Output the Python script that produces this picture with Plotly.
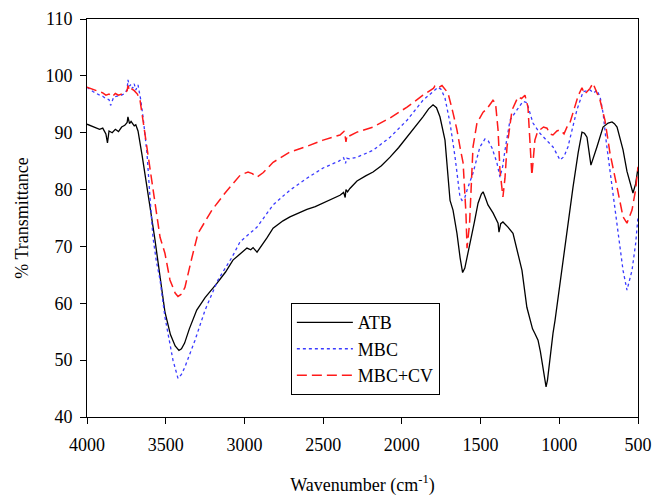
import plotly.graph_objects as go

# ---- data ----
atb_wn = [4000, 3960, 3920, 3900, 3880, 3870, 3860, 3840, 3820, 3800, 3780, 3760, 3745, 3740, 3730, 3720,
          3700, 3690, 3676, 3650, 3620, 3600, 3570, 3540, 3505, 3470, 3440, 3416, 3400, 3380, 3350, 3303,
          3250, 3175, 3120, 3073, 3030, 2984, 2960, 2945, 2920, 2880, 2857, 2818, 2755, 2711, 2647, 2603,
          2550, 2500, 2440, 2393, 2370, 2360, 2355, 2345, 2330, 2285, 2230, 2183, 2130, 2075, 2020, 1967,
          1920, 1866, 1830, 1802, 1780, 1758, 1726, 1694, 1675, 1650, 1630, 1614, 1600, 1585, 1567, 1540,
          1516, 1495, 1484, 1470, 1453, 1421, 1389, 1383, 1372, 1358, 1326, 1294, 1269, 1250, 1237, 1206,
          1170, 1155, 1135, 1120, 1103, 1090, 1084, 1075, 1060, 1040, 1027, 995, 976, 951, 926, 913,
          880, 856, 840, 824, 799, 780, 761, 722, 690, 665, 650, 633, 615, 595, 570, 551, 540, 532, 515, 500]
atb_t = [91.5, 91.0, 90.6, 90.8, 89.8, 88.2, 90.3, 90.0, 90.6, 90.2, 91.0, 91.3, 91.8, 92.8, 91.6, 92.0,
         91.2, 91.4, 90.3, 86.0, 81.0, 77.0, 71.5, 65.5, 58.5, 54.5, 52.5, 51.7, 52.0, 53.0, 55.5, 58.8,
         61.0, 63.5, 65.5, 67.6, 68.7, 69.7, 69.4, 69.8, 69.0, 70.5, 71.5, 73.2, 74.5, 75.2, 76.0, 76.5,
         77.0, 77.6, 78.4, 79.0, 79.5, 78.6, 80.0, 79.6, 80.2, 81.5, 82.4, 83.1, 84.2, 85.7, 87.4, 89.2,
         91.0, 92.8, 94.2, 94.9, 94.4, 92.8, 88.7, 78.1, 76.4, 72.3, 68.0, 65.4, 66.2, 68.0, 70.6, 74.2,
         77.6, 79.2, 79.6, 78.6, 77.3, 75.9, 74.1, 72.5, 74.0, 74.3, 73.4, 72.3, 69.3, 67.0, 65.8, 59.3,
         55.5, 54.7, 53.5, 51.5, 48.8, 46.3, 45.3, 46.5, 50.5, 54.7, 57.0, 63.5, 68.1, 73.4, 78.1, 80.4,
         86.5, 90.1, 89.9, 89.2, 84.3, 85.8, 87.5, 91.0, 91.7, 91.9, 91.6, 91.0, 89.3, 87.0, 83.2, 81.1,
         80.0, 79.4, 81.0, 83.8]

mbc_wn = [4000, 3960, 3920, 3900, 3880, 3860, 3850, 3830, 3800, 3780, 3760, 3745, 3740, 3730, 3720, 3710,
          3700, 3690, 3676, 3660, 3644, 3619, 3600, 3581, 3560, 3536, 3505, 3480, 3454, 3422, 3400, 3378,
          3314, 3250, 3168, 3079, 3028, 2920, 2818, 2711, 2603, 2500, 2400, 2370, 2358, 2350, 2330, 2285,
          2183, 2075, 1967, 1866, 1800, 1770, 1750, 1726, 1694, 1662, 1631, 1618, 1600, 1586, 1548, 1504,
          1472, 1450, 1427, 1396, 1377, 1360, 1345, 1313, 1269, 1231, 1206, 1186, 1167, 1123, 1080, 1040,
          995, 970, 945, 915, 888, 849, 805, 780, 761, 740, 722, 700, 678, 655, 633, 595, 570, 538,
          515, 500]
mbc_t = [98.0, 97.2, 96.6, 96.4, 96.0, 95.8, 94.8, 96.3, 96.5, 96.6, 96.9, 97.6, 99.3, 98.2, 98.5, 97.8,
         98.6, 97.5, 98.4, 96.0, 92.8, 86.4, 78.7, 71.6, 67.5, 64.1, 57.6, 53.5, 50.0, 46.8, 47.5, 48.8,
         53.5, 58.8, 64.1, 68.1, 70.8, 73.4, 77.3, 79.9, 82.0, 83.8, 85.0, 85.6, 84.6, 85.5, 85.4, 85.7,
         86.9, 89.2, 92.2, 95.7, 97.4, 98.0, 97.6, 96.1, 91.7, 85.7, 78.7, 78.1, 78.6, 79.9, 82.9, 87.5,
         88.9, 88.5, 87.3, 84.7, 82.2, 84.0, 86.9, 92.2, 94.0, 95.5, 95.3, 93.5, 91.7, 89.9, 88.6, 87.5,
         85.2, 85.8, 87.5, 91.0, 94.0, 97.2, 97.5, 97.0, 97.5, 96.2, 93.5, 88.0, 83.4, 78.8, 74.6, 65.8,
         62.3, 65.8, 70.5, 75.2]

cv_wn = [4000, 3960, 3920, 3900, 3880, 3860, 3840, 3820, 3800, 3780, 3760, 3745, 3740, 3730, 3720, 3700,
         3680, 3663, 3644, 3613, 3581, 3536, 3505, 3473, 3440, 3422, 3400, 3378, 3333, 3295, 3206, 3123,
         3028, 2977, 2950, 2920, 2880, 2818, 2711, 2603, 2500, 2393, 2365, 2355, 2348, 2335, 2285, 2183,
         2075, 1967, 1866, 1800, 1790, 1770, 1745, 1725, 1707, 1675, 1650, 1631, 1611, 1593, 1586, 1570,
         1555, 1548, 1523, 1500, 1484, 1460, 1440, 1421, 1405, 1389, 1377, 1358, 1345, 1332, 1300, 1262,
         1240, 1218, 1199, 1186, 1174, 1155, 1140, 1123, 1100, 1078, 1060, 1040, 1015, 995, 970, 951,
         935, 913, 880, 856, 840, 824, 805, 786, 770, 741, 710, 678, 633, 595, 570, 538, 515, 500]
cv_t = [98.0, 97.6, 97.2, 97.0, 96.6, 96.8, 96.3, 96.9, 96.6, 96.8, 97.0, 97.4, 98.3, 97.4, 97.8, 97.4,
        96.8, 95.7, 92.2, 85.7, 79.9, 71.6, 68.8, 64.1, 61.8, 61.2, 61.6, 62.8, 68.1, 72.3, 76.4, 79.4,
        82.5, 83.1, 82.8, 82.2, 83.0, 84.8, 86.6, 87.6, 88.7, 89.6, 90.3, 88.4, 89.6, 89.4, 90.1, 91.0,
        92.6, 94.5, 96.6, 97.8, 98.2, 97.9, 98.3, 97.6, 97.0, 93.5, 90.5, 87.5, 84.7, 75.9, 69.7, 74.0,
        81.7, 87.5, 91.7, 92.8, 93.6, 94.2, 95.0, 95.7, 95.2, 90.5, 83.4, 78.7, 82.0, 87.5, 94.0, 96.3,
        96.0, 96.6, 94.5, 87.5, 82.5, 88.7, 90.0, 90.5, 91.0, 90.8, 89.8, 89.6, 90.3, 90.5, 89.8, 91.0,
        91.5, 93.5, 96.5, 97.9, 96.8, 97.2, 97.8, 98.7, 97.6, 95.7, 92.2, 86.4, 80.4, 75.2, 74.1, 76.4,
        80.0, 84.0]

series_names = ["ATB", "MBC", "MBC+CV"]
x_tick_vals = [4000, 3500, 3000, 2500, 2000, 1500, 1000, 500]
y_tick_vals = [40, 50, 60, 70, 80, 90, 100, 110]

FONT = "Liberation Serif"

fig = go.Figure()
fig.add_trace(go.Scatter(x=atb_wn, y=atb_t, mode="lines", name=series_names[0],
                         line=dict(color="black", width=1.3)))
fig.add_trace(go.Scatter(x=mbc_wn, y=mbc_t, mode="lines", name=series_names[1],
                         line=dict(color="#3a3aff", width=1.3, dash="dot")))
fig.add_trace(go.Scatter(x=cv_wn, y=cv_t, mode="lines", name=series_names[2],
                         line=dict(color="#ff1a1a", width=1.5, dash="10px,5px")))

fig.update_layout(
    width=654, height=496,
    margin=dict(l=87, r=16, t=19, b=79),
    paper_bgcolor="white", plot_bgcolor="white",
    font=dict(family=FONT, size=18, color="black"),
    showlegend=True,
    legend=dict(x=0.37, y=0.286, xanchor="left", yanchor="top",
                bordercolor="black", borderwidth=1, bgcolor="white",
                font=dict(family=FONT, size=18), tracegroupgap=0, itemwidth=56),
    xaxis=dict(range=[4000, 500], tickvals=x_tick_vals, ticks="outside", ticklen=6,
               tickcolor="black", showline=True, linecolor="black", linewidth=1, mirror=True,
               showgrid=False, zeroline=False, automargin=False, ticklabelstandoff=5,
               tickfont=dict(family=FONT, size=18),
               title=dict(text="Wavenumber (cm<sup>-1</sup>)", font=dict(family=FONT, size=18),
                          standoff=24)),
    yaxis=dict(range=[40, 110], tickvals=y_tick_vals, ticks="outside", ticklen=6,
               tickcolor="black", showline=True, linecolor="black", linewidth=1, mirror=True,
               showgrid=False, zeroline=False, automargin=False, ticklabelstandoff=4,
               tickfont=dict(family=FONT, size=18),
               title=dict(text="% Transmittance", font=dict(family=FONT, size=18), standoff=12)),
)

fig.write_html("out.html", config={"displayModeBar": False},
               post_script="document.body.style.margin='0px';document.body.style.padding='0px';")
